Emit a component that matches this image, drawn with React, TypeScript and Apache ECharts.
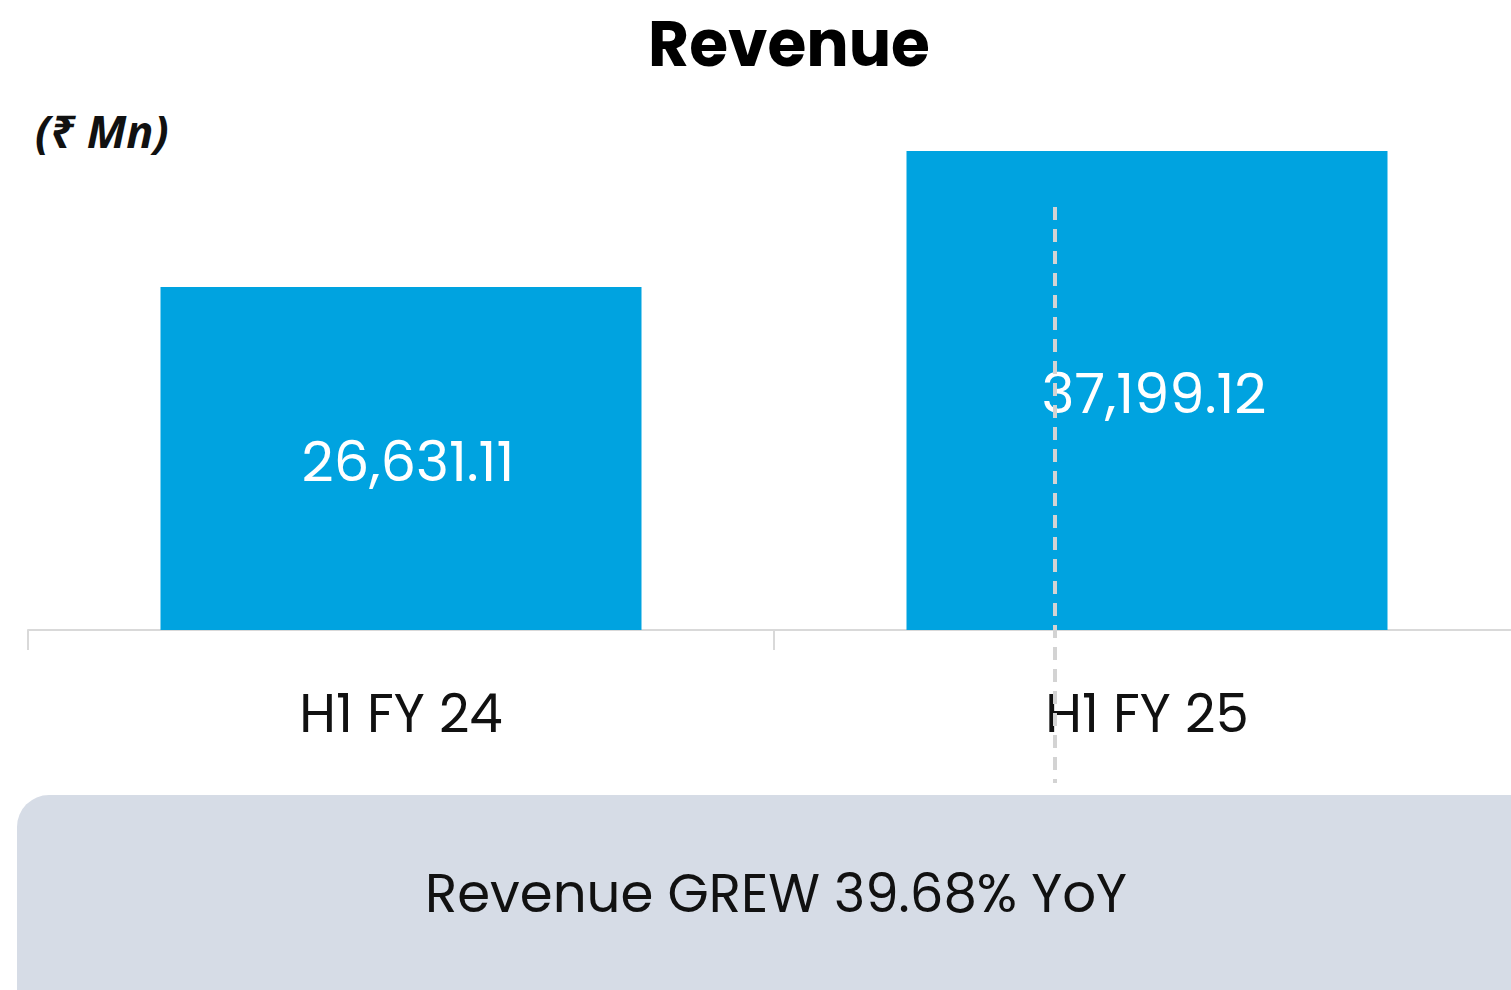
import React, { useEffect, useRef } from "react";
import * as echarts from "echarts";

const categories = ["H1 FY 24", "H1 FY 25"];
const revenue = [26631.11, 37199.12];
const titleText = "Revenue";
const unitText = "(₹ Mn)";
const noteText = "Revenue GREW 39.68% YoY";

const FONT = "Poppins, Inter, 'Noto Sans', sans-serif";

export default function App() {
  const ref = useRef<HTMLDivElement>(null);
  useEffect(() => {
    document.body.style.margin = "0";
    const chart = echarts.init(ref.current!, undefined, { renderer: "svg" });
    chart.setOption({
      animation: false,
      backgroundColor: "#ffffff",
      grid: {
        left: 28,
        width: 1492,
        top: 115,
        bottom: 360,
        containLabel: false,
        outerBoundsMode: "none",
      },
      xAxis: {
        type: "category",
        data: categories,
        axisLine: { lineStyle: { color: "#d9d9d9", width: 2 } },
        axisTick: { show: true, length: 20, lineStyle: { color: "#d9d9d9", width: 2 } },
        axisLabel: {
          color: "#111111",
          fontFamily: FONT,
          fontSize: 53,
          margin: 57,
          lineHeight: 53,
        },
      },
      yAxis: {
        type: "value",
        min: 0,
        max: 40000,
        show: false,
        splitLine: { show: false },
      },
      series: [
        {
          type: "bar",
          data: revenue,
          barWidth: 481,
          itemStyle: { color: "#00a3e0" },
          label: {
            show: true,
            position: "inside",
            offset: [7, 3],
            color: "#ffffff",
            fontFamily: FONT,
            fontSize: 56,
            formatter: (p: any) =>
              p.value.toLocaleString("en-US", { minimumFractionDigits: 2, maximumFractionDigits: 2 }),
          },
        },
      ],
      graphic: [
        {
          type: "text",
          x: 789,
          y: 44,
          style: {
            text: titleText,
            fontFamily: FONT,
            fontWeight: "bold",
            fontSize: 63,
            lineHeight: 63,
            fill: "#000000",
            align: "center",
            verticalAlign: "middle",
          },
        },
        {
          type: "text",
          x: 35,
          y: 130,
          style: {
            text: unitText,
            fontFamily: "'Open Sans', 'Noto Sans', sans-serif",
            fontWeight: "bold",
            fontStyle: "italic",
            fontSize: 45,
            fill: "#111111",
            align: "left",
            verticalAlign: "middle",
          },
        },
        {
          type: "line",
          z: 10,
          shape: { x1: 1055, y1: 207, x2: 1055, y2: 783 },
          style: { stroke: "#d3d3d3", lineWidth: 4, lineDash: [13, 9] },
        },
        {
          type: "rect",
          shape: { x: 17, y: 795, width: 1540, height: 260, r: 32 },
          style: { fill: "#d6dce6" },
        },
        {
          type: "text",
          x: 776,
          y: 893,
          style: {
            text: noteText,
            fontFamily: FONT,
            fontSize: 53,
            fill: "#111111",
            align: "center",
            verticalAlign: "middle",
          },
        },
      ],
    });
    return () => chart.dispose();
  }, []);
  return (
    <div
      ref={ref}
      style={{ position: "absolute", left: 0, top: 0, width: 1511, height: 990 }}
    />
  );
}
